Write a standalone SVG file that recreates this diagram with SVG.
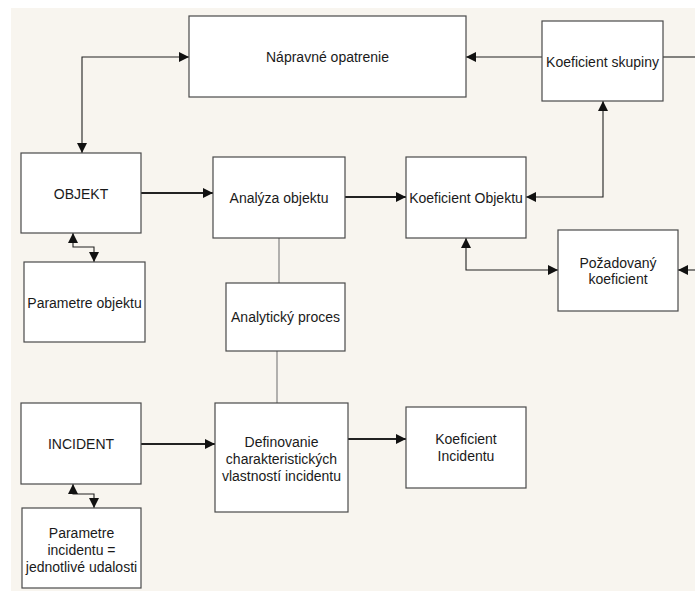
<svg xmlns="http://www.w3.org/2000/svg" width="695" height="591" viewBox="0 0 695 591">
  <defs>
    <marker id="arrow" viewBox="0 0 10 10" refX="10" refY="5" markerWidth="11" markerHeight="10" markerUnits="userSpaceOnUse" orient="auto-start-reverse">
      <path d="M0,0 L10,5 L0,10 z" fill="#111"/>
    </marker>
    <style>
      .box { fill: #ffffff; stroke: #4a4a4a; stroke-width: 1.2; }
      .lbl { font-family: "Liberation Sans", Arial, sans-serif; font-size: 14px; fill: #1a1a1a; text-anchor: middle; dominant-baseline: central; }
      .ln { fill: none; stroke: #222222; stroke-width: 1.1; }
      .thick { stroke-width: 2; }
      .gray { stroke: #777777; }
      .both { marker-start: url(#arrow); marker-end: url(#arrow); }
      .end { marker-end: url(#arrow); }
    </style>
  </defs>

  <!-- page background -->
  <rect x="0" y="0" width="695" height="591" fill="#ffffff"/>
  <rect x="11" y="8" width="684" height="583" fill="#f8f5ef"/>

  <!-- connectors -->
  <g id="connectors">
    <path class="ln both" d="M189,57 H82 V153"/>
    <path class="ln end" d="M542,57 H466"/>
    <path class="ln" d="M663,57 H695"/>
    <path class="ln both" d="M526,197 H603 V101"/>
    <path class="ln thick end" d="M345,197 H406"/>
    <path class="ln thick end" d="M141,193 H213"/>
    <path class="ln both" d="M466,238 V270 H558"/>
    <path class="ln end" d="M695,270 H678"/>
    <path class="ln both" d="M73,233 V247 H94 V262"/>
    <path class="ln gray" d="M279,238 V283"/>
    <path class="ln gray" d="M277,351 V403"/>
    <path class="ln thick end" d="M141,444 H215"/>
    <path class="ln both" d="M73,484 V494 H94 V508"/>
    <path class="ln thick end" d="M348,439 H406"/>
  </g>

  <!-- nodes -->
  <g id="napravne-opatrenie">
    <rect class="box" x="189" y="16" width="277" height="81"/>
    <text class="lbl" x="327.5" y="57">Nápravné opatrenie</text>
  </g>
  <g id="koeficient-skupiny">
    <rect class="box" x="542" y="21" width="121" height="80"/>
    <text class="lbl" x="602.5" y="62">Koeficient skupiny</text>
  </g>
  <g id="objekt">
    <rect class="box" x="21" y="153" width="120" height="80"/>
    <text class="lbl" x="81" y="194">OBJEKT</text>
  </g>
  <g id="analyza-objektu">
    <rect class="box" x="213" y="157" width="132" height="81"/>
    <text class="lbl" x="279" y="198">Analýza objektu</text>
  </g>
  <g id="koeficient-objektu">
    <rect class="box" x="406" y="157" width="120" height="81"/>
    <text class="lbl" x="466" y="198">Koeficient Objektu</text>
  </g>
  <g id="pozadovany-koeficient">
    <rect class="box" x="558" y="230" width="120" height="81"/>
    <text class="lbl" x="618" y="263">Požadovaný</text>
    <text class="lbl" x="618" y="279">koeficient</text>
  </g>
  <g id="parametre-objektu">
    <rect class="box" x="24" y="262" width="121" height="80"/>
    <text class="lbl" x="84.5" y="303">Parametre objektu</text>
  </g>
  <g id="analyticky-proces">
    <rect class="box" x="226" y="283" width="119" height="68"/>
    <text class="lbl" x="285.5" y="317">Analytický proces</text>
  </g>
  <g id="incident">
    <rect class="box" x="21" y="403" width="120" height="81"/>
    <text class="lbl" x="81" y="444">INCIDENT</text>
  </g>
  <g id="definovanie">
    <rect class="box" x="215" y="403" width="133" height="109"/>
    <text class="lbl" x="281.5" y="442">Definovanie</text>
    <text class="lbl" x="281.5" y="459">charakteristických</text>
    <text class="lbl" x="281.5" y="476">vlastností incidentu</text>
  </g>
  <g id="koeficient-incidentu">
    <rect class="box" x="406" y="407" width="120" height="81"/>
    <text class="lbl" x="466" y="439">Koeficient</text>
    <text class="lbl" x="466" y="456">Incidentu</text>
  </g>
  <g id="parametre-incidentu">
    <rect class="box" x="22" y="508" width="119" height="80"/>
    <text class="lbl" x="81.5" y="533">Parametre</text>
    <text class="lbl" x="81.5" y="550">incidentu =</text>
    <text class="lbl" x="81.5" y="567">jednotlivé udalosti</text>
  </g>
</svg>
